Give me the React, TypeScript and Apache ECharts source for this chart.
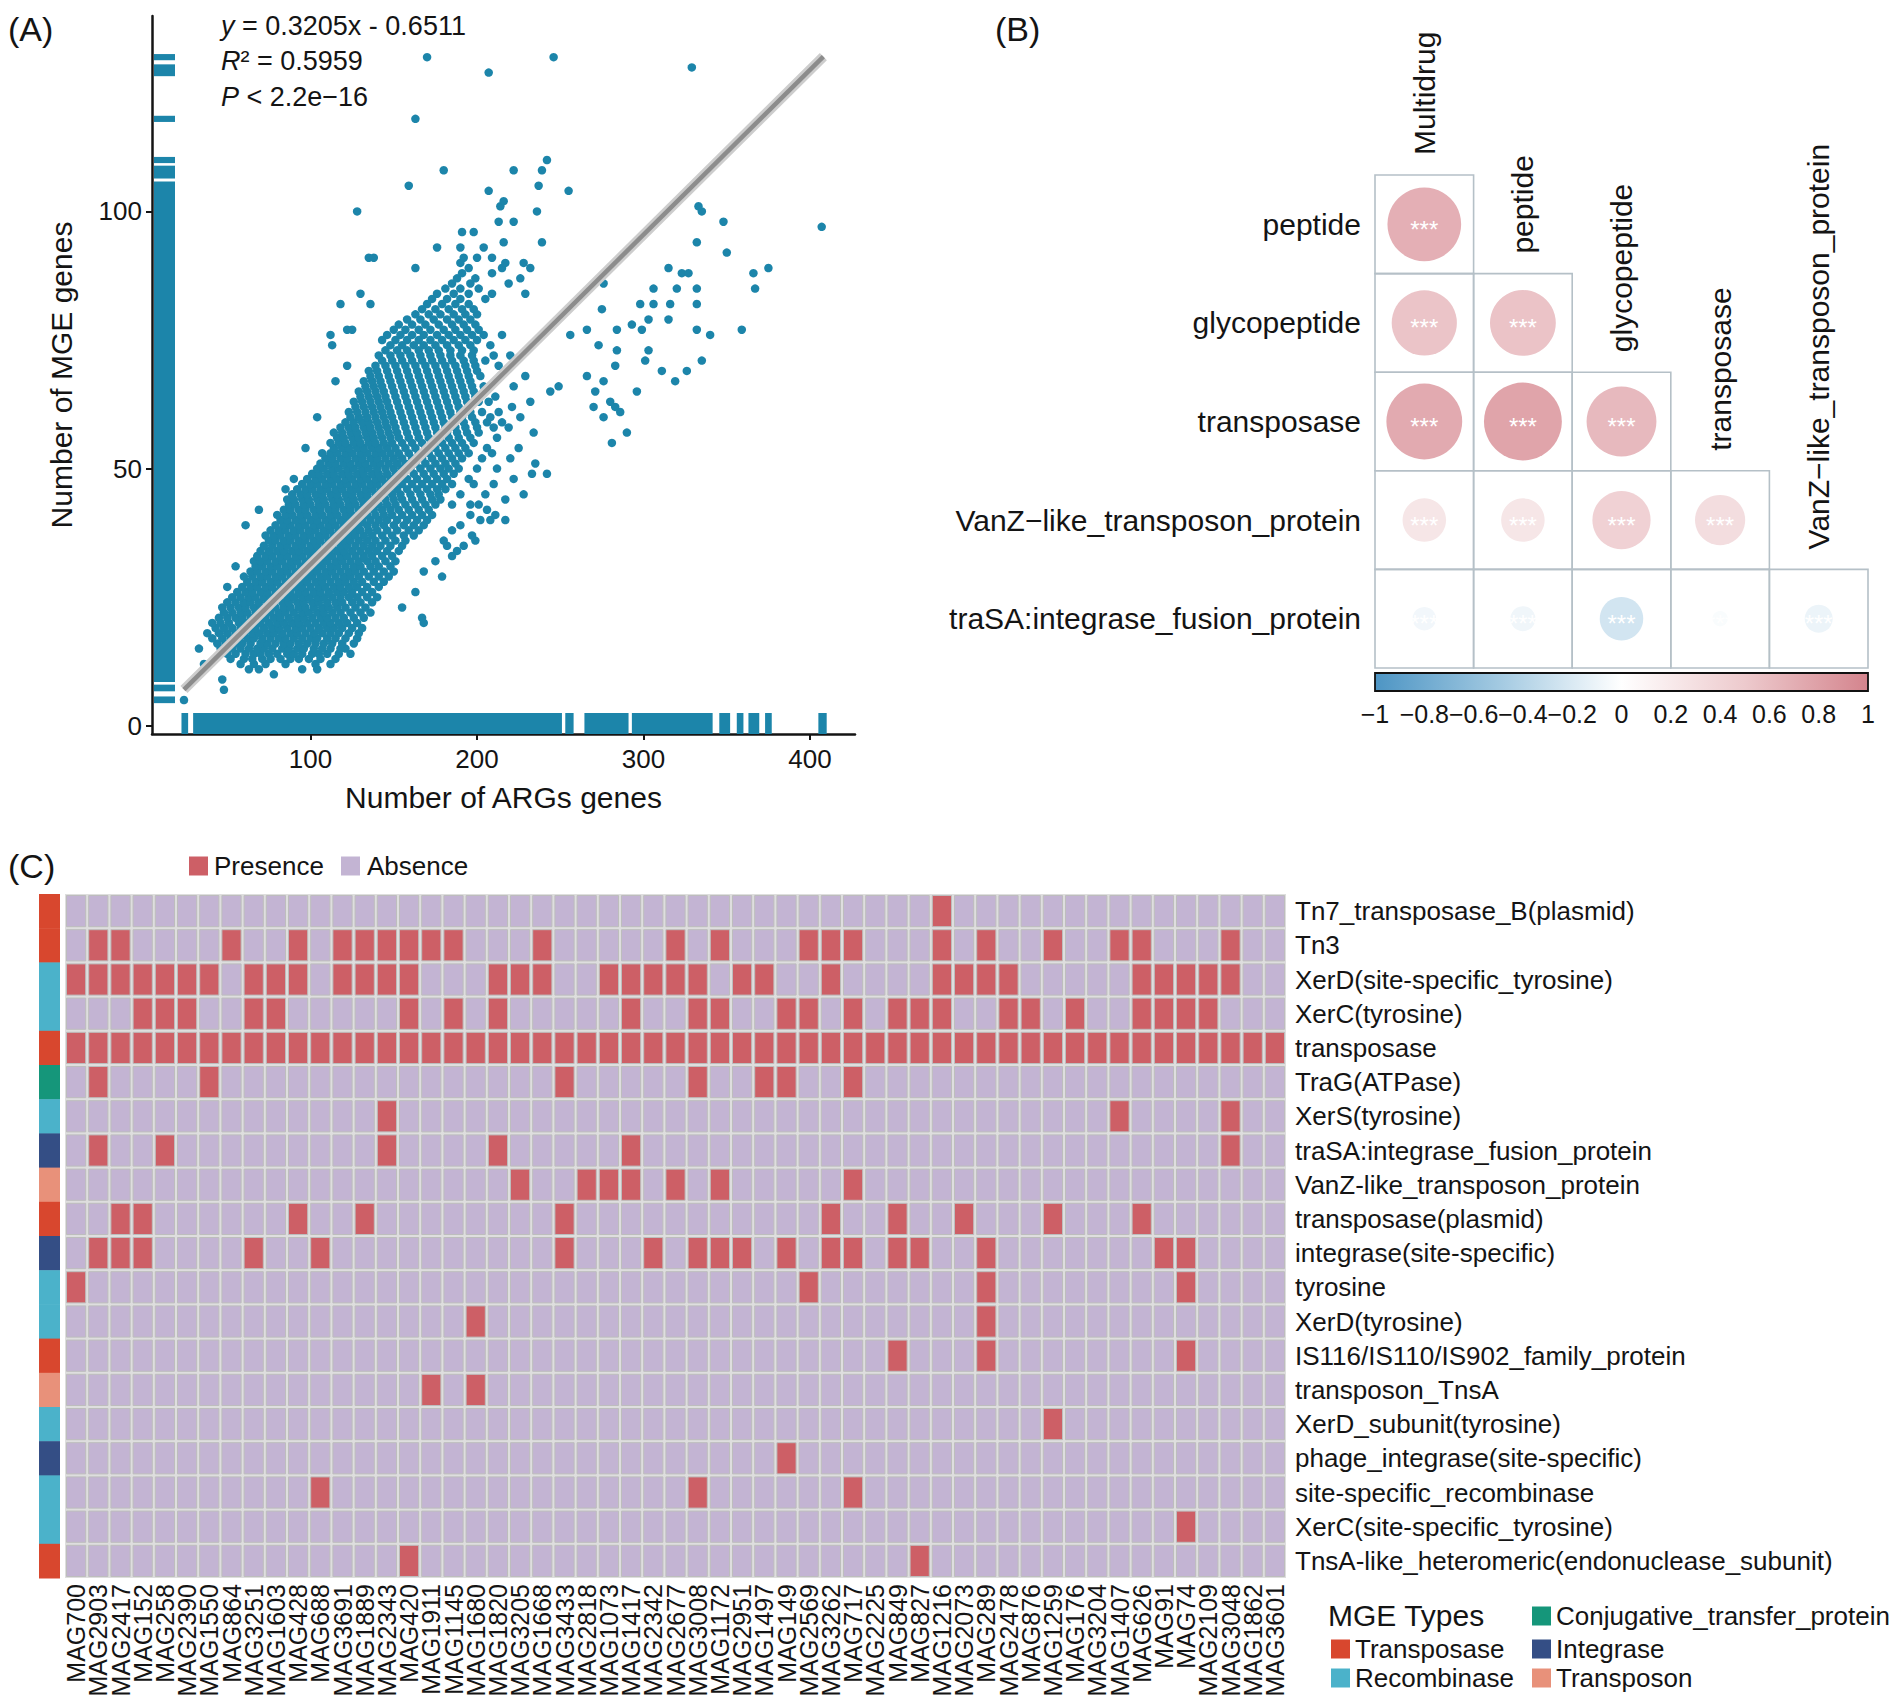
import React, { useEffect, useRef } from "react";
import * as echarts from "echarts";

const FONT = "'Liberation Sans', Arial, Helvetica, sans-serif";
const INK = "#141414";
const POINT_BLUE = "#1c85aa";

// ---------------- Panel A: ARGs vs MGE genes ----------------
// each row: [MGE genes (y), list of ARGs gene counts (x)]
const argMgeRows: [number, number[]][] = [
  [5, [24]], [7, [48]], [9, [47]], [10, [78]],
  [11, [63, 69, 95, 104]],
  [12, [36, 58, 66, 73, 85, 103, 112]],
  [13, [52, 60, 65, 71, 76, 82, 88, 93, 99, 106, 115]],
  [14, [50, 55, 61, 66, 70, 75, 80, 86, 90, 95, 101, 105, 110, 117, 124]],
  [15, [33, 46, 53, 58, 63, 68, 72, 77, 83, 87, 92, 96, 102, 107, 112, 118, 121]],
  [16, [44, 49, 55, 59, 64, 70, 74, 79, 84, 88, 93, 98, 103, 108, 113, 119, 126]],
  [17, [41, 47, 52, 57, 62, 66, 71, 76, 81, 85, 90, 95, 100, 104, 110, 115, 121, 128]],
  [18, [38, 45, 50, 55, 60, 65, 69, 74, 78, 83, 88, 92, 97, 102, 107, 112, 117, 123, 129]],
  [19, [43, 48, 53, 58, 63, 67, 72, 77, 81, 86, 91, 95, 100, 105, 110, 114, 119, 125, 131]],
  [20, [41, 46, 51, 57, 61, 66, 70, 75, 80, 84, 89, 93, 98, 103, 108, 112, 117, 122, 128, 168]],
  [21, [45, 50, 55, 59, 64, 69, 73, 78, 82, 87, 92, 96, 101, 106, 110, 115, 120, 126, 132, 167]],
  [22, [48, 53, 58, 62, 67, 72, 76, 81, 85, 90, 95, 99, 104, 108, 113, 118, 124, 130, 136]],
  [23, [47, 52, 57, 61, 66, 70, 75, 79, 84, 88, 93, 97, 102, 107, 111, 116, 121, 127, 133, 155]],
  [24, [50, 55, 60, 64, 69, 74, 78, 83, 87, 92, 96, 101, 105, 110, 115, 119, 125, 130, 137]],
  [25, [53, 58, 63, 67, 72, 76, 81, 86, 90, 95, 99, 104, 108, 113, 118, 123, 128, 134, 140]],
  [26, [56, 61, 65, 70, 74, 79, 84, 88, 93, 97, 102, 106, 111, 116, 120, 125, 131, 137, 163]],
  [27, [50, 59, 64, 68, 73, 77, 82, 86, 91, 95, 100, 105, 109, 114, 118, 123, 128, 134, 141]],
  [28, [62, 67, 71, 76, 80, 85, 89, 94, 98, 103, 107, 112, 117, 121, 126, 131, 138, 144]],
  [29, [60, 65, 70, 74, 79, 83, 88, 92, 97, 101, 106, 110, 115, 120, 124, 129, 135, 141, 147, 179]],
  [30, [64, 68, 73, 77, 82, 86, 91, 95, 100, 104, 109, 113, 118, 123, 127, 132, 138, 144, 150, 168]],
  [31, [55, 67, 71, 76, 80, 85, 89, 94, 98, 103, 107, 112, 116, 121, 126, 130, 136, 141, 148]],
  [32, [66, 70, 74, 79, 83, 88, 92, 97, 101, 106, 110, 115, 119, 124, 129, 134, 139, 145, 151, 175]],
  [33, [68, 73, 77, 82, 86, 91, 95, 100, 104, 109, 113, 118, 122, 127, 132, 137, 143, 149, 185]],
  [34, [70, 75, 80, 84, 89, 93, 98, 102, 107, 111, 116, 120, 125, 130, 135, 140, 146, 153, 188]],
  [35, [72, 77, 82, 86, 91, 95, 100, 104, 109, 113, 118, 122, 127, 132, 137, 142, 148, 155, 182, 192]],
  [36, [75, 79, 84, 88, 93, 97, 102, 106, 111, 115, 120, 124, 129, 134, 139, 145, 151, 157, 180, 199]],
  [37, [73, 78, 82, 87, 91, 96, 100, 105, 109, 114, 118, 123, 127, 132, 137, 143, 149, 156, 162, 197]],
  [38, [76, 81, 85, 90, 94, 99, 103, 108, 112, 117, 121, 126, 130, 135, 140, 146, 152, 159, 165, 185]],
  [39, [61, 79, 84, 88, 93, 97, 102, 106, 111, 115, 120, 124, 129, 134, 139, 144, 150, 156, 162, 168, 190]],
  [40, [82, 86, 91, 95, 100, 104, 109, 113, 118, 122, 127, 131, 136, 141, 146, 152, 158, 164, 170, 202, 208, 217]],
  [41, [80, 85, 89, 94, 98, 103, 107, 112, 116, 121, 125, 130, 134, 139, 144, 149, 155, 161, 167, 173, 196, 211]],
  [42, [69, 84, 88, 93, 97, 102, 106, 111, 115, 120, 124, 129, 133, 138, 143, 148, 153, 159, 165, 171, 206]],
  [43, [87, 91, 96, 100, 105, 109, 114, 118, 123, 127, 132, 136, 141, 146, 151, 157, 163, 169, 175, 185, 196, 201]],
  [44, [86, 90, 95, 99, 104, 108, 113, 117, 122, 126, 131, 135, 140, 145, 150, 155, 161, 167, 173, 178, 217]],
  [45, [89, 94, 98, 103, 107, 112, 116, 121, 125, 130, 134, 139, 144, 149, 154, 160, 166, 172, 177, 190, 205, 228]],
  [46, [85, 92, 97, 101, 106, 110, 115, 119, 124, 128, 133, 137, 142, 147, 152, 158, 164, 170, 176, 181]],
  [47, [95, 100, 104, 109, 113, 118, 122, 127, 131, 136, 140, 145, 150, 155, 161, 167, 173, 179, 185, 198, 210]],
  [48, [90, 98, 103, 107, 112, 116, 121, 125, 130, 134, 139, 143, 148, 153, 158, 164, 170, 176, 182, 195, 222]],
  [49, [101, 105, 110, 114, 119, 123, 128, 132, 137, 141, 146, 151, 156, 162, 168, 174, 180, 186, 233, 242]],
  [50, [104, 108, 113, 117, 122, 126, 131, 135, 140, 145, 150, 155, 160, 166, 172, 178, 183, 189, 200, 212]],
  [51, [106, 111, 115, 120, 124, 129, 133, 138, 142, 147, 152, 157, 163, 169, 175, 181, 187, 235]],
  [52, [109, 113, 118, 122, 127, 131, 136, 140, 145, 150, 155, 161, 167, 173, 179, 185, 191, 203, 220]],
  [53, [107, 112, 116, 121, 125, 130, 134, 139, 143, 148, 153, 159, 165, 171, 177, 183, 189, 195, 209]],
  [54, [97, 114, 119, 123, 128, 132, 137, 141, 146, 151, 157, 163, 169, 175, 181, 187, 193, 206, 225]],
  [55, [112, 117, 121, 126, 130, 135, 139, 144, 149, 155, 161, 167, 173, 179, 185, 191, 198, 281]],
  [56, [116, 120, 125, 129, 134, 138, 143, 148, 153, 159, 165, 171, 177, 183, 189, 196, 212]],
  [57, [114, 119, 124, 128, 133, 137, 142, 147, 152, 158, 164, 170, 176, 182, 188, 194, 201, 234, 290]],
  [58, [118, 123, 127, 132, 136, 141, 146, 151, 157, 163, 169, 175, 181, 187, 193, 200, 210, 219]],
  [59, [121, 126, 131, 135, 140, 145, 150, 156, 162, 168, 174, 180, 186, 192, 199, 206, 215]],
  [60, [104, 124, 129, 134, 139, 144, 149, 155, 161, 167, 173, 179, 185, 191, 197, 208, 226, 276]],
  [61, [123, 128, 133, 138, 143, 148, 154, 160, 166, 172, 178, 184, 190, 196, 203, 213, 286]],
  [62, [127, 132, 137, 142, 147, 153, 159, 165, 171, 177, 183, 189, 195, 221, 270, 283]],
  [63, [126, 131, 136, 141, 146, 152, 158, 164, 170, 176, 182, 188, 194, 201, 207, 232, 280]],
  [64, [130, 135, 140, 145, 151, 157, 163, 169, 175, 181, 187, 193, 199, 211]],
  [65, [129, 134, 139, 144, 150, 156, 162, 168, 174, 180, 186, 192, 198, 244, 271, 296]],
  [66, [133, 138, 143, 149, 155, 161, 167, 173, 179, 185, 191, 197, 204, 222, 249]],
  [67, [115, 132, 137, 142, 148, 154, 160, 166, 172, 178, 184, 190, 196, 276, 319]],
  [68, [136, 141, 147, 153, 159, 165, 171, 177, 183, 189, 195, 202, 214, 229, 266]],
  [69, [135, 140, 146, 152, 158, 164, 170, 176, 182, 188, 194, 200, 311, 326]],
  [70, [122, 139, 145, 151, 157, 163, 169, 175, 181, 187, 193, 199, 213, 283]],
  [71, [143, 149, 155, 161, 167, 173, 179, 185, 192, 198, 205, 301, 335]],
  [72, [141, 148, 154, 160, 166, 172, 178, 184, 190, 197, 210, 220]],
  [73, [145, 152, 158, 165, 171, 177, 184, 191, 198, 284, 303]],
  [74, [113, 148, 155, 162, 168, 175, 182, 189, 196, 208, 273]],
  [75, [143, 151, 158, 165, 172, 179, 186, 193, 200]],
  [76, [112, 146, 154, 161, 168, 176, 183, 190, 197, 204, 215, 256, 340]],
  [77, [122, 125, 150, 157, 165, 172, 180, 187, 194, 201, 266, 284, 299, 332, 359]],
  [78, [153, 161, 169, 177, 185, 192, 199, 293]],
  [79, [158, 166, 174, 182, 189, 196, 303, 315]],
  [80, [163, 171, 178, 186, 193, 200]],
  [81, [167, 175, 183, 191, 198, 275]],
  [82, [118, 136, 170, 179, 187, 195, 298, 306, 316, 332]],
  [83, [173, 182, 190, 205]],
  [84, [130, 176, 186, 195, 209, 229]],
  [85, [181, 190, 201, 306, 320, 332, 367]],
  [86, [185, 196, 219, 276]],
  [87, [188, 199, 226]],
  [88, [191, 209, 323, 327, 366]],
  [89, [163, 195, 215, 232, 315, 375]],
  [90, [190, 217, 228]],
  [91, [135, 138, 192, 200, 209]],
  [92, [350]],
  [93, [176, 190, 204]],
  [94, [216, 239, 332]],
  [96, [191, 198]],
  [97, [407]],
  [98, [213, 222, 348]],
  [100, [128, 236, 335]],
  [101, [214, 333]],
  [102, [216]],
  [104, [207, 255]],
  [105, [159, 237]],
  [108, [180, 222, 239]],
  [110, [242]],
  [118, [163]],
  [127, [207]],
  [128, [329]],
  [130, [170, 246]],
];
// rug extents (from, to) along each axis
const argRug: [number, number][] = [
  [22.5, 26.5], [29.5, 251], [253, 258], [264.5, 291], [293, 341.5],
  [345.5, 352], [356, 360], [363, 369.5], [373, 377], [405, 410],
];
const mgeRug: [number, number][] = [
  [4.4, 5.7], [6.7, 8.0], [8.5, 105.8], [106.4, 108.9], [109.4, 110.6],
  [117.4, 118.6], [126.3, 128.6], [129.4, 130.6],
];
const fitEnds: [number, number][] = [[24, 7.04], [408, 130.1]];
const argTicks = [100, 200, 300, 400];
const mgeTicks = [0, 50, 100];

// ---------------- Panel B: correlation ----------------
const corrRowNames = ["peptide", "glycopeptide", "transposase", "VanZ\u2212like_transposon_protein", "traSA:integrase_fusion_protein"];
const corrColNames = ["Multidrug", "peptide", "glycopeptide", "transposase", "VanZ\u2212like_transposon_protein"];
const corrValues: number[][] = [
  [0.69],
  [0.54, 0.55],
  [0.73, 0.77, 0.62],
  [0.24, 0.24, 0.43, 0.32],
  [-0.07, -0.08, -0.24, -0.03, -0.1],
];
const corrSignif = "***";
const corrStops: [number, string][] = [
  [-1, "#4d95c4"], [-0.5, "#a2c9e1"], [0, "#ffffff"], [0.5, "#edcacd"], [1, "#d4848d"],
];

// ---------------- Panel C: presence / absence ----------------
const magIds = [
  "MAG700", "MAG2903", "MAG2417", "MAG152", "MAG258", "MAG2390", "MAG1550", "MAG864", "MAG3251", "MAG1603",
  "MAG428", "MAG688", "MAG3691", "MAG1889", "MAG2343", "MAG420", "MAG1911", "MAG1145", "MAG1680", "MAG1820",
  "MAG3205", "MAG1668", "MAG3433", "MAG2818", "MAG1073", "MAG1417", "MAG2342", "MAG2677", "MAG3008", "MAG1172",
  "MAG2951", "MAG1497", "MAG149", "MAG2569", "MAG3262", "MAG717", "MAG2225", "MAG849", "MAG827", "MAG1216",
  "MAG2073", "MAG289", "MAG2478", "MAG876", "MAG1259", "MAG176", "MAG3204", "MAG1407", "MAG626", "MAG91",
  "MAG74", "MAG2109", "MAG3048", "MAG1862", "MAG3601",
];
const mgeGenes = [
  "Tn7_transposase_B(plasmid)", "Tn3", "XerD(site-specific_tyrosine)", "XerC(tyrosine)", "transposase",
  "TraG(ATPase)", "XerS(tyrosine)", "traSA:integrase_fusion_protein", "VanZ-like_transposon_protein",
  "transposase(plasmid)", "integrase(site-specific)", "tyrosine", "XerD(tyrosine)",
  "IS116/IS110/IS902_family_protein", "transposon_TnsA", "XerD_subunit(tyrosine)",
  "phage_integrase(site-specific)", "site-specific_recombinase", "XerC(site-specific_tyrosine)",
  "TnsA-like_heteromeric(endonuclease_subunit)",
];
const mgeTypeNames = ["Transposase", "Recombinase", "Conjugative_transfer_protein", "Integrase", "Transposon"];
const mgeTypeColors = ["#d8472e", "#4bb2ca", "#15967a", "#344e85", "#e8917a"];
// type index per gene row
const mgeGeneType = [0, 0, 1, 1, 0, 2, 1, 3, 4, 0, 3, 1, 1, 0, 4, 1, 3, 1, 1, 0];
// 1-based column numbers (in magIds order) where the gene is present
const presenceCols: number[][] = [
  [40],
  [2, 3, 8, 11, 13, 14, 15, 16, 17, 18, 22, 28, 30, 34, 35, 36, 40, 42, 45, 48, 49, 53],
  [1, 2, 3, 4, 5, 6, 7, 9, 10, 11, 13, 14, 15, 16, 20, 21, 22, 25, 26, 27, 28, 29, 31, 32, 35, 40, 41, 42, 43, 49, 50, 51, 52, 53],
  [4, 5, 6, 9, 10, 16, 18, 20, 26, 29, 30, 33, 34, 36, 38, 39, 40, 43, 44, 46, 49, 50, 51, 52],
  [1, 2, 3, 4, 5, 6, 7, 8, 9, 10, 11, 12, 13, 14, 15, 16, 17, 18, 19, 20, 21, 22, 23, 24, 25, 26, 27, 28,
    29, 30, 31, 32, 33, 34, 35, 36, 37, 38, 39, 40, 41, 42, 43, 44, 45, 46, 47, 48, 49, 50, 51, 52, 53, 54, 55],
  [2, 7, 23, 29, 32, 33, 36],
  [15, 48, 53],
  [2, 5, 15, 20, 26, 53],
  [21, 24, 25, 26, 28, 30, 36],
  [3, 4, 11, 14, 23, 35, 38, 41, 45, 49],
  [2, 3, 4, 9, 12, 23, 27, 29, 30, 31, 33, 35, 36, 38, 39, 42, 50, 51],
  [1, 34, 42, 51],
  [19, 42],
  [38, 42, 51],
  [17, 19],
  [45],
  [33],
  [12, 29, 36],
  [51],
  [16, 39],
];
const presenceLabels = ["Presence", "Absence"];
const PRESENT = "#cd5f66";
const ABSENT = "#c3b4d3";

function hexRgb(h: string) {
  return [parseInt(h.slice(1, 3), 16), parseInt(h.slice(3, 5), 16), parseInt(h.slice(5, 7), 16)];
}
function corrColor(v: number) {
  for (let i = 0; i < corrStops.length - 1; i++) {
    const [a, ca] = corrStops[i];
    const [b, cb] = corrStops[i + 1];
    if (v >= a && v <= b) {
      const t = (v - a) / (b - a);
      const A = hexRgb(ca), B = hexRgb(cb);
      const c = A.map((x, k) => Math.round(x + (B[k] - x) * t));
      return `rgb(${c[0]},${c[1]},${c[2]})`;
    }
  }
  return "#ffffff";
}
function fmtMinus(v: number) {
  const r = Math.round(v * 10) / 10;
  return r < 0 ? "\u2212" + String(Math.abs(r)) : String(r);
}

function buildOption(): any {
  const points: [number, number][] = [];
  argMgeRows.forEach(([y, xs]) => xs.forEach((x) => points.push([x, y])));

  const corrData: number[][] = [];
  corrValues.forEach((row, r) => row.forEach((v, c) => corrData.push([c, r, v])));

  const heatData: number[][] = [];
  mgeGenes.forEach((_, r) => {
    const set = new Set(presenceCols[r]);
    magIds.forEach((_, c) => heatData.push([c, r, set.has(c + 1) ? 1 : 0]));
  });
  const annotData = mgeGenes.map((_, r) => [0, r, mgeGeneType[r]]);

  const axisText = { color: INK, fontFamily: FONT };

  const text = (t: string, x: number, y: number, size: number, extra: any = {}) => ({
    type: "text",
    x,
    y,
    style: { text: t, fontSize: size, fontFamily: FONT, fill: INK, align: "left", verticalAlign: "middle", ...extra },
  });
  const square = (x: number, y: number, color: string) => ({
    type: "rect",
    shape: { x, y: y - 9.5, width: 19, height: 19 },
    style: { fill: color },
  });
  const italic = { rich: { i: { fontStyle: "italic", fontSize: 27, fontFamily: FONT } } };

  const graphic: any[] = [
    text("(A)", 8, 29, 34),
    text("{i|y} = 0.3205x - 0.6511", 221, 26, 27, italic),
    text("{i|R}\u00b2 = 0.5959", 221, 61, 27, italic),
    text("{i|P} < 2.2e\u221216", 221, 97, 27, italic),
    text("(B)", 995, 29, 34),
    text("(C)", 8, 866, 34),
    square(189, 866, PRESENT),
    text(presenceLabels[0], 214, 866, 26),
    square(341, 866, ABSENT),
    text(presenceLabels[1], 367, 866, 26),
    text("MGE Types", 1328, 1615, 30),
  ];
  const legendPos = [
    [1331, 1649], [1331, 1678], [1532, 1616], [1532, 1649], [1532, 1678],
  ];
  mgeTypeNames.forEach((n, i) => {
    graphic.push(square(legendPos[i][0], legendPos[i][1], mgeTypeColors[i]));
    graphic.push(text(n, legendPos[i][0] + 24, legendPos[i][1], 26));
  });

  return {
    animation: false,
    backgroundColor: "#ffffff",
    textStyle: { fontFamily: FONT },
    grid: [
      { left: 152, top: 16, width: 703, height: 718 },
      { left: 1375, top: 175, width: 493, height: 493 },
      { left: 1375, top: 673, width: 493, height: 18 },
      { left: 65, top: 894, width: 1221, height: 684, show: true, backgroundColor: "#dedede", borderWidth: 0 },
      { left: 39, top: 894, width: 21, height: 684 },
    ],
    xAxis: [
      {
        type: "value", gridIndex: 0, min: 4.8, max: 427,
        name: "Number of ARGs genes", nameLocation: "middle", nameGap: 48,
        nameTextStyle: { fontSize: 30, ...axisText },
        axisLine: { show: true, onZero: false, lineStyle: { color: INK, width: 2.5 } },
        axisTick: { show: true, length: 6, lineStyle: { color: INK, width: 2 }, customValues: argTicks },
        axisLabel: { fontSize: 26, margin: 12, ...axisText, customValues: argTicks },
        splitLine: { show: false },
      },
      { type: "category", gridIndex: 1, data: corrColNames, show: false },
      {
        type: "value", gridIndex: 2, min: -1, max: 1, interval: 0.2,
        axisLine: { show: false }, axisTick: { show: false }, splitLine: { show: false },
        axisLabel: { fontSize: 25, margin: 10, ...axisText, formatter: fmtMinus, showMinLabel: true, showMaxLabel: true },
      },
      {
        type: "category", gridIndex: 3, data: magIds,
        axisLine: { show: false }, axisTick: { show: false },
        axisLabel: { rotate: 90, interval: 0, fontSize: 25, margin: 6, ...axisText },
      },
      { type: "category", gridIndex: 4, data: ["type"], show: false },
    ],
    yAxis: [
      {
        type: "value", gridIndex: 0, min: -1.6, max: 138,
        name: "Number of MGE genes", nameLocation: "middle", nameGap: 76,
        nameTextStyle: { fontSize: 30, ...axisText },
        axisLine: { show: true, onZero: false, lineStyle: { color: INK, width: 2.5 } },
        axisTick: { show: true, length: 6, lineStyle: { color: INK, width: 2 }, customValues: mgeTicks },
        axisLabel: { fontSize: 26, margin: 10, ...axisText, customValues: mgeTicks },
        splitLine: { show: false },
      },
      {
        type: "category", gridIndex: 1, data: corrRowNames, inverse: true,
        axisLine: { show: false }, axisTick: { show: false },
        axisLabel: { fontSize: 30, margin: 14, ...axisText },
      },
      { type: "value", gridIndex: 2, min: 0, max: 1, show: false },
      {
        type: "category", gridIndex: 3, data: mgeGenes, inverse: true, position: "right",
        axisLine: { show: false }, axisTick: { show: false },
        axisLabel: { fontSize: 26, margin: 9, interval: 0, ...axisText },
      },
      { type: "category", gridIndex: 4, data: mgeGenes, inverse: true, show: false },
    ],
    series: [
      {
        type: "scatter", xAxisIndex: 0, yAxisIndex: 0, data: points,
        symbol: "circle", symbolSize: 8.5,
        itemStyle: { color: POINT_BLUE, opacity: 1 }, z: 2,
      },
      {
        type: "custom", xAxisIndex: 0, yAxisIndex: 0, data: argRug, z: 3,
        renderItem: (params: any, api: any) => {
          const cs = params.coordSys;
          const a = api.coord([api.value(0), 0]);
          const b = api.coord([api.value(1), 0]);
          return {
            type: "rect",
            shape: { x: a[0], y: cs.y + cs.height - 21, width: Math.max(b[0] - a[0], 1.6), height: 21 },
            style: { fill: POINT_BLUE },
          };
        },
      },
      {
        type: "custom", xAxisIndex: 0, yAxisIndex: 0, data: mgeRug.map(([a, b]) => [100, a, b]), z: 3,
        encode: { x: 0, y: [1, 2] },
        renderItem: (params: any, api: any) => {
          const cs = params.coordSys;
          const lo = api.coord([100, api.value(1)]);
          const hi = api.coord([100, api.value(2)]);
          return {
            type: "rect",
            shape: { x: cs.x + 2, y: hi[1], width: 21, height: Math.max(lo[1] - hi[1], 1.6) },
            style: { fill: POINT_BLUE },
          };
        },
      },
      {
        type: "line", xAxisIndex: 0, yAxisIndex: 0, data: fitEnds, symbol: "none", z: 4,
        lineStyle: { color: "#cdcdcd", width: 10 },
      },
      {
        type: "line", xAxisIndex: 0, yAxisIndex: 0, data: fitEnds, symbol: "none", z: 5,
        lineStyle: { color: "#8c8c8c", width: 4.5 },
      },
      {
        type: "custom", xAxisIndex: 1, yAxisIndex: 1, data: corrData,
        renderItem: (params: any, api: any) => {
          const c = api.value(0), r = api.value(1), v = api.value(2);
          const p = api.coord([c, r]);
          const s = api.size([1, 1]);
          const rad = (0.9 * Math.sqrt(Math.abs(v)) * s[0]) / 2;
          const children: any[] = [
            {
              type: "rect",
              shape: { x: p[0] - s[0] / 2, y: p[1] - s[1] / 2, width: s[0], height: s[1] },
              style: { fill: "none", stroke: "#b5c0c7", lineWidth: 1.6 },
            },
            { type: "circle", shape: { cx: p[0], cy: p[1], r: rad }, style: { fill: corrColor(v) } },
            {
              type: "text", x: p[0], y: p[1] + 5,
              style: { text: corrSignif, fill: "#ffffff", fontSize: 24, fontFamily: FONT, align: "center", verticalAlign: "middle" },
            },
          ];
          if (c === r) {
            children.push({
              type: "text", x: p[0], y: p[1] - s[1] / 2 - 20, rotation: Math.PI / 2,
              style: { text: corrColNames[c], fill: INK, fontSize: 30, fontFamily: FONT, align: "left", verticalAlign: "middle" },
            });
          }
          return { type: "group", children };
        },
      },
      {
        type: "custom", xAxisIndex: 2, yAxisIndex: 2, data: [[-1, 0]],
        renderItem: (params: any) => {
          const cs = params.coordSys;
          return {
            type: "rect",
            shape: { x: cs.x, y: cs.y, width: cs.width, height: cs.height },
            style: {
              fill: new echarts.graphic.LinearGradient(0, 0, 1, 0,
                corrStops.map(([v, col]) => ({ offset: (v + 1) / 2, color: col }))),
              stroke: "#111111", lineWidth: 1.8,
            },
          };
        },
      },
      {
        type: "custom", xAxisIndex: 3, yAxisIndex: 3, data: heatData,
        renderItem: (params: any, api: any) => {
          const p = api.coord([api.value(0), api.value(1)]);
          const s = api.size([1, 1]);
          return {
            type: "rect",
            shape: { x: p[0] - s[0] / 2 + 1.5, y: p[1] - s[1] / 2 + 1.5, width: s[0] - 3, height: s[1] - 3 },
            style: { fill: api.value(2) ? PRESENT : ABSENT, stroke: "#bdbdbd", lineWidth: 1 },
          };
        },
      },
      {
        type: "custom", xAxisIndex: 4, yAxisIndex: 4, data: annotData,
        renderItem: (params: any, api: any) => {
          const p = api.coord([api.value(0), api.value(1)]);
          const s = api.size([1, 1]);
          return {
            type: "rect",
            shape: { x: p[0] - s[0] / 2, y: p[1] - s[1] / 2, width: s[0], height: s[1] + 0.5 },
            style: { fill: mgeTypeColors[api.value(2)] },
          };
        },
      },
    ],
    graphic,
  };
}

export default function App() {
  const ref = useRef<HTMLDivElement>(null);
  useEffect(() => {
    const chart = echarts.init(ref.current!, null, { renderer: "svg" });
    chart.setOption(buildOption());
    return () => chart.dispose();
  }, []);
  return (
    <div
      ref={ref}
      style={{ position: "absolute", left: 0, top: 0, width: 1902, height: 1707, background: "#ffffff" }}
    />
  );
}
